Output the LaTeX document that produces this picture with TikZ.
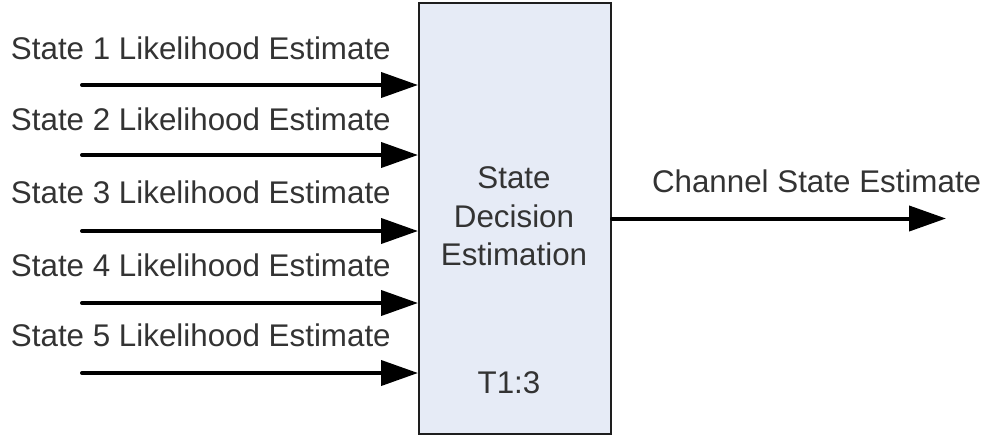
\documentclass[tikz,border=0pt]{standalone}
\usepackage{fontspec}
\setmainfont{Liberation Sans}
\usetikzlibrary{arrows.meta}
\definecolor{txtgray}{HTML}{333333}
\definecolor{blockfill}{HTML}{E6EBF6}
\definecolor{blockline}{HTML}{1E1E1E}
\tikzset{
  lbl/.style={font=\fontsize{23.5pt}{28pt}\selectfont, text=txtgray, inner sep=0pt, outer sep=0pt},
  blockbox/.style={draw=blockline, fill=blockfill, line width=1.5pt,
    minimum width=144pt, minimum height=323.25pt, inner sep=0pt},
  sigarrow/.style={line width=3pt, line cap=round, draw=black,
    -{Triangle[length=27.75pt, width=18.75pt]}}
}
\begin{document}
\begin{tikzpicture}[x=0.75pt, y=-0.75pt]
  \useasboundingbox (0,0) rectangle (991,437);

  % decision block
  \node[blockbox] (sde) at (515,218.5) {};
  \node[lbl, anchor=base] (sdeA) at (514,188) {State};
  \node[lbl, anchor=base] (sdeB) at (514,227) {Decision};
  \node[lbl, anchor=base] (sdeC) at (514,265) {Estimation};
  \node[lbl, anchor=base] (sdeT) at (509,393) {T1:3};

  % input labels and arrows
  \foreach \i/\lb/\ay in {1/59/85, 2/130/155, 3/203/231, 4/276/303, 5/346/373} {
    \node[lbl, anchor=base west] (lab\i) at (11,\lb) {State \i\ Likelihood Estimate};
    \coordinate (in\i) at (82,\ay);
    \draw[sigarrow] (in\i) -- (in\i -| sde.west);
  }

  % output
  \coordinate (out) at (946,218.5);
  \draw[sigarrow] (sde.east) -- (out);
  \node[lbl, anchor=base west] (outlab) at (652,192) {Channel State Estimate};
\end{tikzpicture}
\end{document}
